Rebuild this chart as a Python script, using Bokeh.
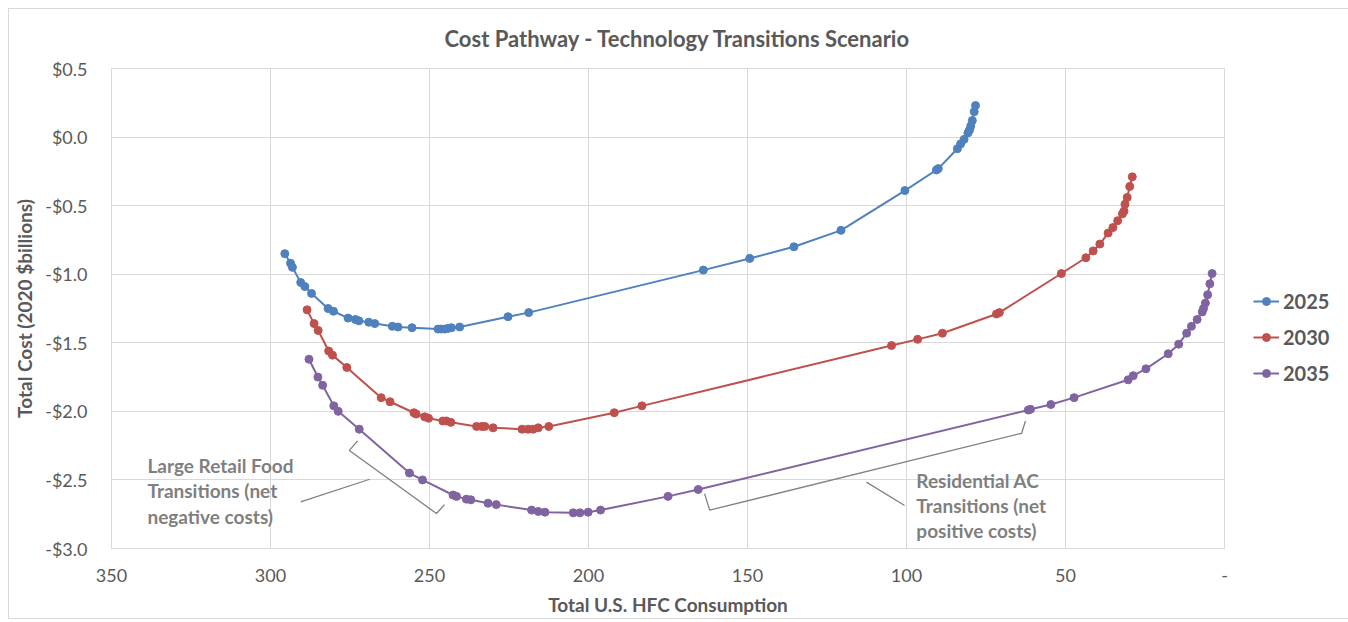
from bokeh.plotting import figure
from bokeh.models import (Range1d, FixedTicker, CustomJSTickFormatter, Legend, LegendItem)
from bokeh.core.properties import value
from bokeh.embed import file_html
from bokeh.resources import INLINE

# ---------------- data ----------------
x_2025 = [295.5, 293.7, 293.1, 290.5, 289.2, 287.1, 281.9, 280.2, 275.6, 273.3, 272.2, 269.1,
          267.2, 261.7, 259.9, 255.5, 247.3, 246.3, 245.2, 244.2, 243.1, 240.5, 225.3, 218.8,
          163.9, 149.3, 135.4, 120.6, 100.5, 90.6, 90.0, 84.0, 83.0, 81.9, 80.7, 80.2, 79.8,
          79.3, 78.7, 78.3]
y_2025 = [-0.85, -0.92, -0.95, -1.06, -1.09, -1.14, -1.25, -1.27, -1.32, -1.33, -1.34, -1.35,
          -1.36, -1.38, -1.385, -1.39, -1.40, -1.40, -1.40, -1.395, -1.39, -1.385, -1.31, -1.28,
          -0.97, -0.885, -0.80, -0.68, -0.39, -0.24, -0.23, -0.085, -0.05, -0.017, 0.03, 0.05,
          0.08, 0.12, 0.185, 0.23]

x_2030 = [288.5, 286.3, 285.0, 281.7, 280.5, 276.0, 265.2, 262.4, 254.9, 254.2, 251.5, 250.3,
          245.8, 244.7, 243.3, 235.2, 233.6, 232.6, 230.0, 220.9, 219.0, 217.4, 215.8, 212.5,
          191.9, 183.2, 104.7, 96.5, 88.7, 71.7, 70.8, 51.3, 43.6, 41.3, 39.2, 36.6, 35.1, 33.6,
          32.1, 31.6, 31.3, 30.6, 29.8, 29.0]
y_2030 = [-1.26, -1.36, -1.41, -1.56, -1.59, -1.68, -1.90, -1.93, -2.01, -2.02, -2.04, -2.05,
          -2.07, -2.07, -2.08, -2.11, -2.11, -2.11, -2.12, -2.13, -2.13, -2.13, -2.12, -2.11,
          -2.01, -1.96, -1.52, -1.475, -1.43, -1.29, -1.28, -0.995, -0.88, -0.83, -0.78, -0.70,
          -0.66, -0.61, -0.56, -0.54, -0.49, -0.44, -0.36, -0.29]

x_2035 = [287.9, 285.1, 283.6, 280.1, 278.7, 272.1, 256.3, 252.2, 242.6, 241.5, 238.4, 237.0,
          231.6, 229.0, 217.9, 215.8, 213.7, 204.8, 202.7, 200.1, 196.2, 175.0, 165.5, 61.7,
          61.0, 54.6, 47.3, 30.3, 28.7, 24.7, 17.7, 14.4, 11.9, 10.4, 8.6, 7.0, 6.6, 6.0, 5.3,
          4.6, 3.9]
y_2035 = [-1.62, -1.75, -1.81, -1.96, -2.00, -2.13, -2.45, -2.50, -2.61, -2.62, -2.64, -2.645,
          -2.67, -2.68, -2.72, -2.73, -2.735, -2.74, -2.74, -2.735, -2.72, -2.62, -2.57, -1.99,
          -1.985, -1.95, -1.90, -1.77, -1.74, -1.69, -1.58, -1.51, -1.43, -1.38, -1.33, -1.275,
          -1.25, -1.21, -1.15, -1.07, -0.995]

series_names = ["2025", "2030", "2035"]
x_ticks = [0, 50, 100, 150, 200, 250, 300, 350]
y_ticks = [-3.0, -2.5, -2.0, -1.5, -1.0, -0.5, 0.0, 0.5]

title_text = "Cost Pathway - Technology Transitions Scenario"
x_label = "Total U.S. HFC Consumption"
y_label = "Total Cost (2020 $billions)"
note_retail = ["Large Retail Food", "Transitions (net", "negative costs)"]
note_resid = ["Residential AC", "Transitions (net", "positive costs)"]

# ---------------- styling ----------------
FONT = "Lato"
colors = ["#4F81BD", "#C0504D", "#8064A2"]
GRID = "#D9D9D9"
TXT = "#595959"
NOTE = "#7F7F7F"

p = figure(frame_width=1113, frame_height=480, output_backend="svg", toolbar_location=None,
           x_range=Range1d(350, 0), y_range=Range1d(-3.0, 0.5),
           min_border_left=102, min_border_right=117, min_border_top=59, min_border_bottom=66,
           background_fill_color="white", border_fill_color="white")
p.styles = {"border": "1px solid #D9D9D9", "box-sizing": "border-box", "margin": "8px"}

p.title.text = title_text
p.title.align = "left"
p.title.offset = 333
p.title.vertical_align = "top"
p.title.text_font = FONT
p.title.text_font_size = "22px"
p.title.text_font_style = "bold"
p.title.text_color = TXT
p.title.standoff = 30

p.outline_line_color = GRID
p.xgrid.grid_line_color = GRID
p.ygrid.grid_line_color = GRID
p.xgrid.ticker = FixedTicker(ticks=x_ticks)
p.ygrid.ticker = FixedTicker(ticks=y_ticks)

p.xaxis.ticker = FixedTicker(ticks=x_ticks)
p.yaxis.ticker = FixedTicker(ticks=y_ticks)
p.xaxis.formatter = CustomJSTickFormatter(code="return tick == 0 ? '-' : tick.toFixed(0);")
p.yaxis.formatter = CustomJSTickFormatter(
    code="return (tick < -1e-9 ? '-$' : '$') + Math.abs(tick).toFixed(1);")

for ax in (p.xaxis[0], p.yaxis[0]):
    ax.axis_line_color = None
    ax.major_tick_line_color = None
    ax.minor_tick_line_color = None
    ax.major_label_text_font = FONT
    ax.major_label_text_font_size = "18px"
    ax.major_label_text_color = TXT
    ax.axis_label_text_font = FONT
    ax.axis_label_text_font_size = "19px"
    ax.axis_label_text_font_style = "bold"
    ax.axis_label_text_color = TXT

p.xaxis.axis_label = x_label
p.yaxis.axis_label = y_label
p.xaxis.major_label_standoff = 14
p.yaxis.major_label_standoff = 18
p.xaxis.axis_label_standoff = 8
p.yaxis.axis_label_standoff = 6

items = []
for name, xs, ys, c in zip(series_names, [x_2025, x_2030, x_2035],
                           [y_2025, y_2030, y_2035], colors):
    r1 = p.line(xs, ys, line_color=c, line_width=2)
    r2 = p.scatter(xs, ys, size=8, fill_color=c, line_color=c, marker="circle")
    items.append(LegendItem(label=name, renderers=[r1, r2]))

legend = Legend(items=items, location=(29, 163), orientation="vertical",
                label_text_font=FONT, label_text_font_size="20px",
                label_text_font_style="bold", label_text_color=TXT,
                glyph_width=26, glyph_height=20, label_height=20, label_standoff=4,
                spacing=12, padding=0, margin=0,
                border_line_color=None, background_fill_alpha=0)
p.add_layout(legend, "right")

# ---------------- annotations (brackets + leader lines) ----------------
ann_col = "#808080"
# Large retail food bracket
p.line([272.6, 275.2, 247.8, 245.3], [-2.215, -2.285, -2.745, -2.68], line_color=ann_col, line_width=1.3)
p.line([290.5, 268.8], [-2.66, -2.495], line_color=ann_col, line_width=1.3)
# Residential AC bracket
p.line([163.5, 161.9, 63.8, 62.6], [-2.60, -2.72, -2.16, -2.07], line_color=ann_col, line_width=1.3)
p.line([112.6, 100.6], [-2.516, -2.686], line_color=ann_col, line_width=1.3)

p.text(x=[338.7] * 3, y=[-2.394, -2.577, -2.766], text=note_retail,
       text_font=value(FONT), text_font_size="19px", text_font_style="bold",
       text_color=NOTE, text_baseline="middle", text_align="left")
p.text(x=[96.9] * 3, y=[-2.504, -2.686, -2.869], text=note_resid,
       text_font=value(FONT), text_font_size="19px", text_font_style="bold",
       text_color=NOTE, text_baseline="middle", text_align="left")

open("out.html", "w").write(file_html(p, INLINE))
